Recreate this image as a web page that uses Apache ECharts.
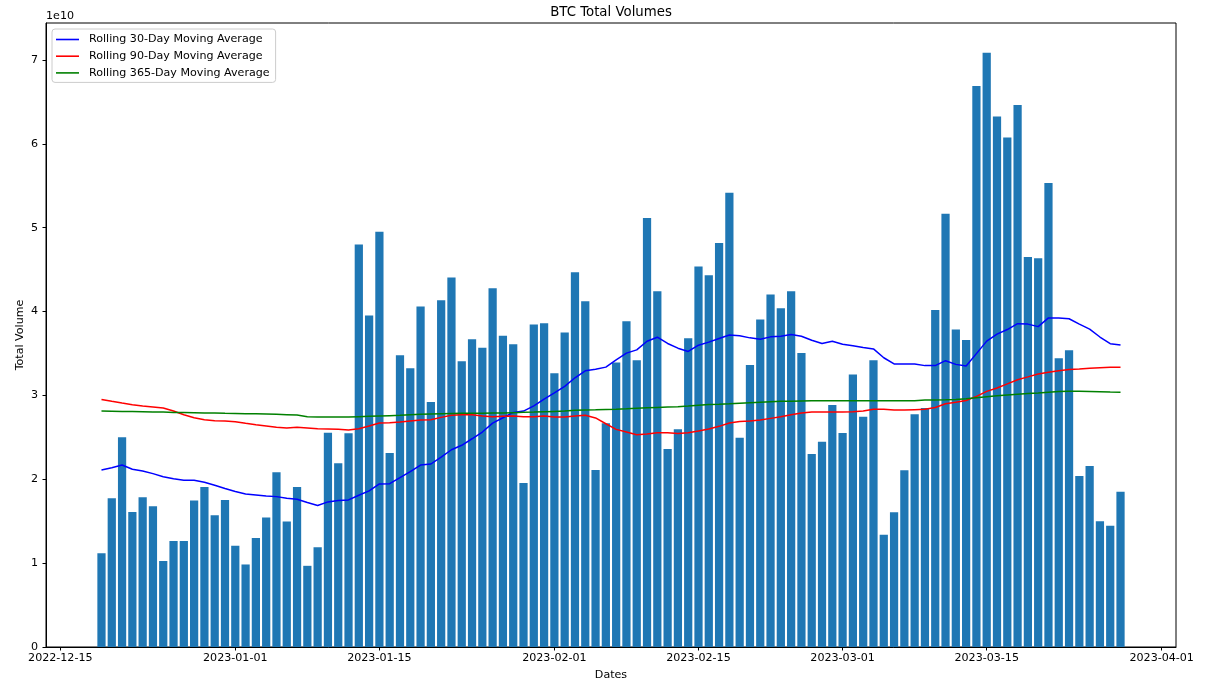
<!DOCTYPE html>
<html>
<head>
<meta charset="utf-8">
<script src="https://cdn.jsdelivr.net/npm/echarts@6/dist/echarts.min.js"></script>
<style>
html,body{margin:0;padding:0;background:#fff;}
#chart{width:1215px;height:687px;}
</style>
</head>
<body>
<div id="chart"></div>
<script>
// Values are in units of 1e10 (the axis offset text)
const firstDate = '2022-12-19';
const volumes = [1.119,1.774,2.500,1.611,1.786,1.679,1.024,1.265,1.265,1.746,
1.908,1.571,1.754,1.206,0.984,1.301,1.543,2.083,1.496,1.908,
0.968,1.188,2.555,2.190,2.548,4.798,3.952,4.952,2.313,3.480,
3.325,4.060,2.920,4.135,4.405,3.408,3.670,3.567,4.277,3.710,
3.611,1.956,3.845,3.861,3.265,3.750,4.468,4.124,2.111,2.667,
3.393,3.885,3.420,5.114,4.242,2.361,2.595,3.682,4.536,4.432,
4.817,5.417,2.495,3.361,3.905,4.202,4.039,4.242,3.507,2.301,
2.448,2.885,2.551,3.250,2.745,3.420,1.337,1.608,2.108,2.776,
2.850,4.018,5.166,3.785,3.662,6.690,7.086,6.324,6.076,6.462,
4.651,4.636,5.532,3.444,3.538,2.039,2.157,1.499,1.445,1.851];
const ma30 = [2.111,2.138,2.170,2.119,2.099,2.067,2.031,2.007,1.988,1.988,
1.964,1.929,1.889,1.853,1.825,1.813,1.801,1.793,1.774,1.762,
1.722,1.688,1.730,1.746,1.754,1.810,1.861,1.944,1.948,2.019,
2.091,2.170,2.182,2.265,2.352,2.405,2.483,2.563,2.670,2.733,
2.797,2.813,2.876,2.956,3.031,3.107,3.210,3.293,3.311,3.337,
3.424,3.504,3.543,3.646,3.694,3.619,3.563,3.524,3.599,3.635,
3.679,3.721,3.710,3.686,3.670,3.698,3.706,3.726,3.706,3.658,
3.619,3.646,3.611,3.591,3.571,3.554,3.449,3.375,3.375,3.375,
3.355,3.355,3.414,3.370,3.350,3.498,3.647,3.731,3.785,3.855,
3.850,3.820,3.924,3.924,3.914,3.850,3.790,3.696,3.617,3.602];
const ma90 = [2.952,2.929,2.908,2.888,2.873,2.861,2.849,2.813,2.769,2.733,
2.710,2.698,2.694,2.686,2.667,2.650,2.635,2.619,2.611,2.619,
2.611,2.601,2.599,2.595,2.587,2.603,2.635,2.670,2.674,2.682,
2.694,2.706,2.710,2.738,2.762,2.769,2.769,2.754,2.746,2.750,
2.754,2.746,2.746,2.754,2.742,2.742,2.754,2.763,2.731,2.662,
2.595,2.563,2.531,2.539,2.555,2.555,2.547,2.555,2.575,2.599,
2.631,2.670,2.690,2.694,2.706,2.726,2.746,2.769,2.789,2.801,
2.801,2.801,2.801,2.805,2.814,2.836,2.835,2.825,2.825,2.830,
2.835,2.855,2.900,2.919,2.939,2.989,3.048,3.088,3.137,3.187,
3.221,3.256,3.276,3.295,3.310,3.315,3.325,3.330,3.335,3.335];
const ma365 = [2.813,2.811,2.809,2.807,2.805,2.803,2.801,2.797,2.795,2.793,
2.790,2.790,2.786,2.784,2.782,2.780,2.778,2.774,2.770,2.766,
2.746,2.742,2.742,2.742,2.742,2.746,2.750,2.754,2.758,2.762,
2.770,2.774,2.778,2.782,2.784,2.786,2.786,2.788,2.789,2.790,
2.794,2.798,2.801,2.805,2.809,2.813,2.822,2.826,2.829,2.833,
2.836,2.840,2.847,2.853,2.857,2.861,2.865,2.873,2.882,2.891,
2.895,2.900,2.906,2.912,2.918,2.924,2.929,2.931,2.933,2.935,
2.936,2.936,2.936,2.936,2.936,2.936,2.936,2.936,2.936,2.936,
2.944,2.946,2.948,2.952,2.960,2.972,2.984,2.996,3.005,3.014,
3.023,3.030,3.038,3.046,3.048,3.048,3.046,3.043,3.040,3.038];
const xTickLabels = ['2022-12-15','2023-01-01','2023-01-15','2023-02-01','2023-02-15','2023-03-01','2023-03-15','2023-04-01'];
const yTickLabels = [0,1,2,3,4,5,6,7];
const seriesNames = ['Rolling 30-Day Moving Average','Rolling 90-Day Moving Average','Rolling 365-Day Moving Average'];

const DAY = 86400000;
function utc(s){const p=s.split('-').map(Number);return Date.UTC(p[0],p[1]-1,p[2]);}
const origin = utc(xTickLabels[0]);
function dayOf(s){return Math.round((utc(s)-origin)/DAY);}
const dates = volumes.map((_,i)=>{const d=new Date(utc(firstDate)+i*DAY);return d.toISOString().slice(0,10);});
const xDays = dates.map(dayOf);
const tickDays = xTickLabels.map(dayOf);

const lo = xDays[0]-0.4, hi = xDays[xDays.length-1]+0.4;
const xMin = lo-0.05*(hi-lo), xMax = hi+0.05*(hi-lo);
const yMax = Math.max(...volumes)*1.05;

const GL=46, GR=39, GT=23, GB=40, W=1215;
const barW = (W-GL-GR)/(xMax-xMin)*0.8;
const FONT = 'DejaVu Sans';
const FS = 11.1;

const pair = arr => arr.map((v,i)=>[xDays[i], v]);

const chart = echarts.init(document.getElementById('chart'), null, {renderer:'canvas'});
chart.setOption({
  animation:false,
  backgroundColor:'#fff',
  textStyle:{fontFamily:FONT},
  grid:{left:GL,right:GR,top:GT,bottom:GB,show:true,borderColor:'#000',borderWidth:1,backgroundColor:'transparent'},
  graphic:[
    {type:'text',x:611,y:12.5,style:{text:'BTC Total Volumes',font:'13.3px "DejaVu Sans"',fill:'#000',textAlign:'center',textVerticalAlign:'middle'}},
    {type:'text',x:46,y:16.5,style:{text:'1e10',font:FS+'px "DejaVu Sans"',fill:'#000',textAlign:'left',textVerticalAlign:'middle'}}
  ],
  legend:{
    orient:'vertical',left:52,top:29,
    icon:'rect',
    padding:[4,6,3,4],itemGap:3.7,itemWidth:23,itemHeight:1.6,
    backgroundColor:'rgba(255,255,255,0.8)',borderColor:'#cccccc',borderWidth:1,borderRadius:3,
    textStyle:{fontFamily:FONT,fontSize:FS,color:'#000',lineHeight:13,padding:[0,0,0,5]},
    data:seriesNames
  },
  xAxis:{
    type:'value',min:xMin,max:xMax,
    name:'Dates',nameLocation:'middle',nameGap:23,nameMoveOverlap:false,
    nameTextStyle:{fontFamily:FONT,fontSize:FS,color:'#000'},
    axisLine:{show:true,onZero:false,lineStyle:{color:'#000',width:1}},
    axisTick:{show:true,length:3.5,lineStyle:{color:'#000'},customValues:tickDays},
    axisLabel:{show:true,customValues:tickDays,color:'#000',fontSize:FS,fontFamily:FONT,margin:6,
      formatter:v=>{const i=tickDays.indexOf(Math.round(v));return i>=0?xTickLabels[i]:'';}},
    splitLine:{show:false}
  },
  yAxis:{
    type:'value',min:0,max:yMax,
    name:'Total Volume',nameLocation:'middle',nameGap:20,nameRotate:90,nameMoveOverlap:false,
    nameTextStyle:{fontFamily:FONT,fontSize:FS,color:'#000'},
    axisLine:{show:true,onZero:false,lineStyle:{color:'#000',width:1}},
    axisTick:{show:true,length:3.5,lineStyle:{color:'#000'},customValues:yTickLabels},
    axisLabel:{show:true,customValues:yTickLabels,color:'#000',fontSize:FS,fontFamily:FONT,margin:8,
      formatter:v=>String(v)},
    splitLine:{show:false}
  },
  series:[
    {type:'bar',name:'Total Volume',data:pair(volumes),barWidth:barW,itemStyle:{color:'#1f77b4'},z:1},
    {type:'line',name:seriesNames[0],data:pair(ma30),symbol:'none',lineStyle:{color:'#0000ff',width:1.5},itemStyle:{color:'#0000ff'},z:3},
    {type:'line',name:seriesNames[1],data:pair(ma90),symbol:'none',lineStyle:{color:'#ff0000',width:1.5},itemStyle:{color:'#ff0000'},z:3},
    {type:'line',name:seriesNames[2],data:pair(ma365),symbol:'none',lineStyle:{color:'#008000',width:1.5},itemStyle:{color:'#008000'},z:3}
  ]
});
</script>
</body>
</html>
